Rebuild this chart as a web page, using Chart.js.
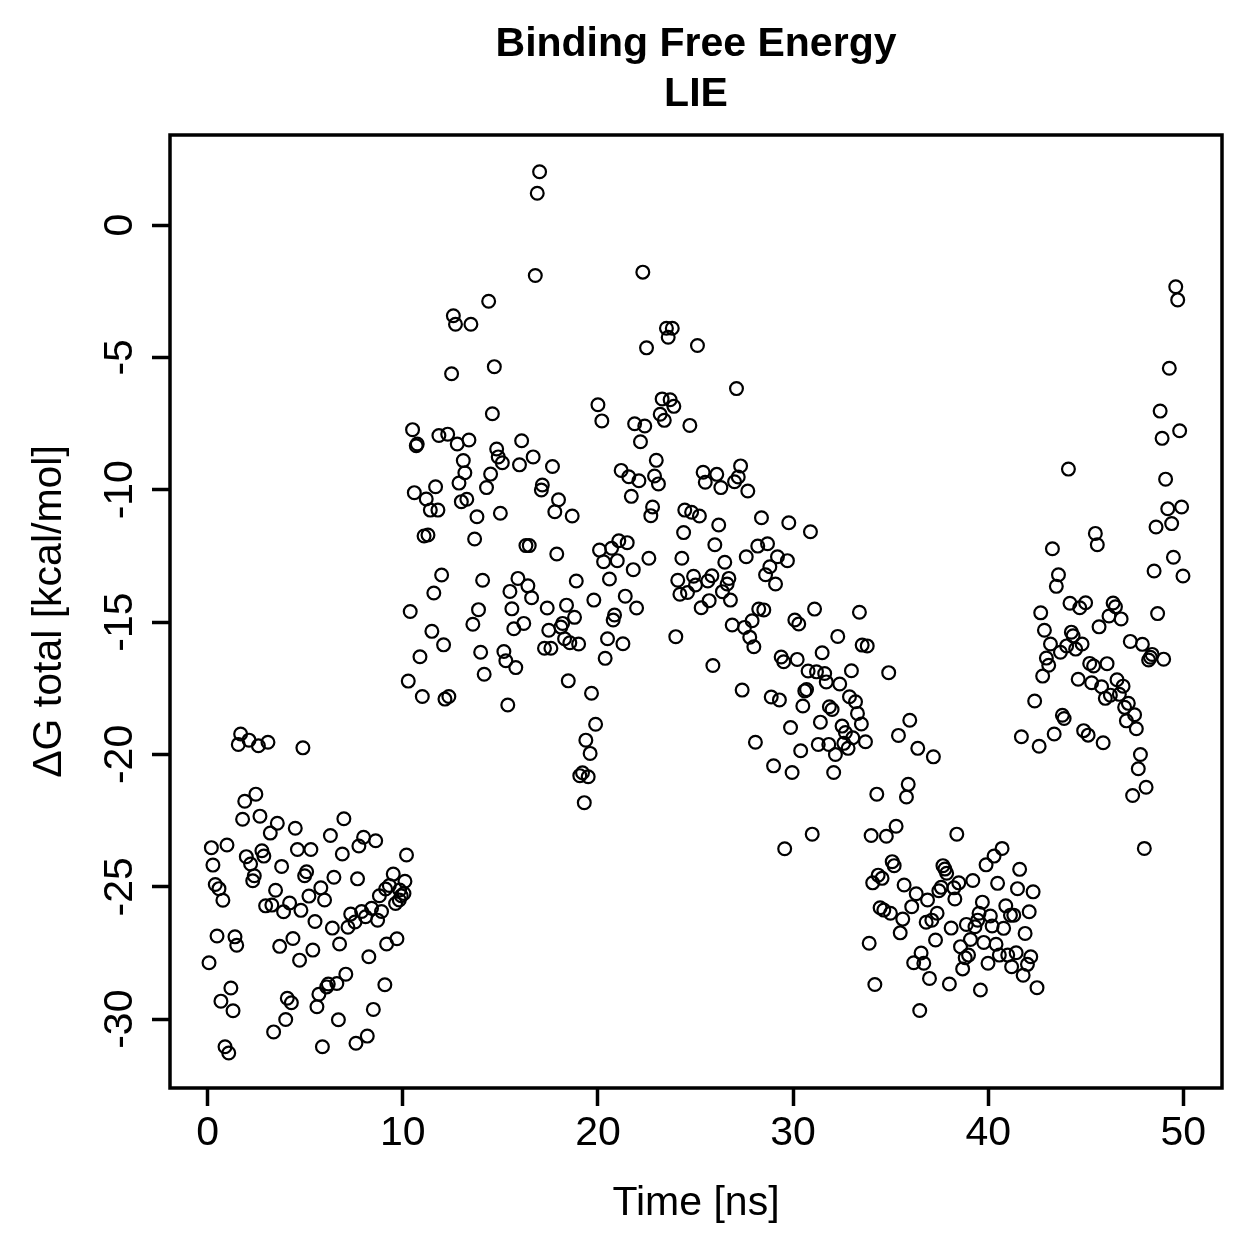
<!DOCTYPE html>
<html>
<head>
<meta charset="utf-8">
<title>Binding Free Energy - LIE</title>
<script src="https://cdn.jsdelivr.net/npm/chart.js@4.4.0/dist/chart.umd.min.js"></script>
<style>
html, body { margin: 0; padding: 0; background: #fff; }
#wrap { width: 1259px; height: 1259px; }
</style>
</head>
<body>
<div id="wrap"><canvas id="lieChart" width="1259" height="1259"></canvas></div>
<script>
// time [ns] and Delta G total [kcal/mol] (10 per line)
var timeNs = [
  1.69,1.57,2.12,2.60,3.09,4.88,2.47,1.90,1.79,2.68,
  3.57,3.21,4.49,6.98,6.29,7.99,8.61,7.75,0.19,0.99,
  1.98,2.20,2.78,2.88,3.79,4.60,5.29,6.90,10.19,0.27,
  5.07,4.97,2.39,2.31,6.47,7.68,9.51,10.11,0.39,0.58,
  0.78,3.48,5.80,5.19,5.99,9.31,9.12,8.80,9.84,10.06,
  9.92,9.63,9.82,2.97,3.29,3.89,4.20,4.78,5.50,6.39,
  7.19,7.33,7.55,7.89,8.09,8.40,8.71,8.91,0.48,1.40,
  1.49,3.69,4.37,5.39,6.76,9.17,9.70,4.71,8.26,0.07,
  7.08,6.62,6.18,6.10,5.70,5.60,4.08,4.29,9.08,1.19,
  0.68,1.30,4.00,3.38,6.70,8.49,0.89,1.08,5.88,7.60,
  8.18,
  17.01,16.89,16.79,14.40,12.59,12.70,13.49,12.50,14.69,14.59,
  20.00,20.20,10.50,10.74,10.69,11.85,12.30,12.79,13.39,14.81,
  14.89,15.10,16.09,13.10,13.18,14.50,15.98,16.68,17.67,12.88,
  14.29,11.68,10.59,11.20,17.15,17.10,17.98,17.79,18.68,11.41,
  11.80,13.00,13.28,13.80,15.00,
  11.09,11.29,13.68,16.31,16.48,17.89,20.08,20.29,20.59,11.99,
  14.09,15.90,16.41,15.49,16.60,18.89,19.79,11.59,10.38,13.88,
  13.59,15.59,16.20,15.69,17.40,18.39,18.80,18.19,18.10,17.48,
  18.29,18.56,19.01,17.26,17.59,20.49,20.37,11.49,12.09,10.88,
  13.99,15.18,15.28,15.79,14.17,10.28,11.00,12.16,12.36,15.38,
  18.48,19.67,19.88,19.38,19.60,19.21,19.07,19.50,19.30,
  22.30,23.51,23.81,23.60,22.49,25.10,27.10,23.29,23.70,23.89,
  23.19,23.40,24.71,21.88,22.40,22.18,22.99,21.19,21.58,22.10,
  22.90,23.10,21.71,25.39,25.50,26.09,26.30,27.31,27.19,27.00,
  27.68,22.80,22.71,24.45,24.80,25.20,28.38,29.78,26.19,
  24.39,25.99,28.19,28.69,20.70,21.07,21.50,20.99,21.81,22.61,
  24.30,26.50,27.60,29.20,29.71,28.81,28.59,29.10,24.09,24.90,
  25.00,25.63,25.84,24.20,24.59,26.71,26.62,26.38,26.79,25.70,
  25.29,21.40,21.98,20.85,20.78,21.28,23.99,25.89,26.88,27.51,
  27.90,27.78,27.99,28.24,28.50,29.39,29.52,27.39,28.88,29.30,
  29.87,28.07,29.00,29.95,
  30.89,31.10,33.40,30.09,30.29,32.29,33.54,33.80,31.49,30.21,
  30.77,31.20,31.62,32.99,34.90,31.70,32.39,30.60,30.69,32.89,
  33.20,30.50,31.86,32.00,33.30,33.50,31.40,32.51,32.68,33.06,
  33.71,31.29,31.83,32.60,32.82,32.17,30.39,32.08,35.98,35.40,
  36.39,37.19,35.90,35.81,34.29,30.98,34.00,34.78,35.28,38.39,
  29.57,
  42.38,41.70,42.61,43.38,40.71,40.30,39.89,41.61,35.08,35.18,
  34.36,34.56,34.08,35.69,37.68,37.78,37.87,37.59,37.47,38.49,
  38.24,39.21,38.29,40.48,41.50,42.30,36.31,36.89,36.08,34.46,
  34.65,34.99,35.62,35.49,37.38,37.11,36.82,39.70,40.90,41.14,
  41.31,42.10,39.53,39.46,39.32,38.88,40.11,40.20,40.79,38.10,
  41.89,37.30,39.09,38.58,38.99,38.82,39.77,40.40,40.57,41.00,
  41.43,42.18,42.01,41.79,41.20,39.99,38.69,33.90,36.56,36.18,
  36.70,36.99,38.01,39.60,42.50,34.19,36.49,
  49.61,49.71,49.28,48.81,49.81,48.91,44.11,49.09,49.20,49.91,
  48.60,49.40,45.49,43.29,45.59,49.49,48.50,49.98,43.60,43.49,
  44.19,44.69,44.99,46.40,46.52,46.19,46.81,45.68,48.68,42.69,
  42.88,43.19,44.26,44.35,44.02,43.70,44.48,44.81,42.98,43.10,
  42.79,47.28,47.90,48.40,48.22,48.31,48.99,45.20,45.40,46.09,
  44.61,45.30,45.81,46.60,46.91,46.72,46.00,46.26,47.18,46.99,
  47.50,47.08,47.59,43.80,43.89,44.89,45.12,45.89,47.80,47.69,
  48.09,47.40,48.00
];

var deltaG = [
  -19.23,-19.62,-19.46,-19.67,-19.54,-19.75,-21.50,-21.77,-22.45,-22.33,
  -22.60,-22.97,-22.79,-22.43,-23.06,-23.13,-23.26,-23.46,-23.52,-23.42,
  -23.86,-24.14,-23.64,-23.84,-24.23,-23.59,-23.59,-23.76,-23.80,-24.18,
  -24.43,-24.58,-24.58,-24.77,-24.64,-24.70,-24.52,-24.79,-24.91,-25.07,
  -25.51,-25.13,-25.04,-25.35,-25.50,-24.95,-25.08,-25.34,-25.12,-25.25,
  -25.34,-25.63,-25.50,-25.72,-25.69,-25.94,-25.61,-25.89,-26.31,-26.56,
  -26.53,-26.03,-26.33,-25.93,-26.13,-25.81,-26.26,-25.93,-26.86,-26.89,
  -27.21,-27.25,-26.95,-27.39,-27.16,-27.16,-26.96,-27.77,-27.64,-27.87,
  -28.30,-28.65,-28.67,-28.78,-29.06,-29.53,-29.21,-29.38,-28.70,-28.82,
  -29.32,-29.68,-30.01,-30.48,-30.02,-29.63,-31.04,-31.28,-31.04,-30.91,
  -30.64,
  2.01,1.20,-1.91,-2.88,-3.43,-3.75,-3.75,-5.62,-5.35,-7.13,
  -6.79,-7.40,-7.73,-8.27,-8.34,-7.95,-7.90,-8.27,-8.12,-8.46,
  -8.76,-8.98,-8.15,-8.90,-9.36,-9.41,-9.06,-8.76,-9.12,-9.75,
  -9.92,-9.89,-10.11,-10.35,-9.82,-10.01,-10.38,-10.83,-10.99,-10.77,
  -10.77,-10.45,-10.36,-11.02,-10.89,
  -11.75,-11.71,-11.86,-12.11,-12.11,-12.43,-12.28,-12.72,-13.37,-13.22,
  -13.42,-13.35,-13.63,-13.84,-14.08,-13.45,-14.17,-13.90,-14.60,-14.53,
  -15.08,-14.50,-15.05,-15.25,-14.47,-14.36,-14.82,-15.05,-15.19,-15.31,
  -15.63,-15.78,-15.83,-15.99,-15.99,-15.63,-16.37,-15.35,-15.86,-16.31,
  -16.14,-16.11,-16.46,-16.72,-16.97,-17.23,-17.81,-17.91,-17.81,-18.13,
  -17.22,-17.69,-18.86,-19.46,-19.96,-20.69,-20.80,-20.84,-21.82,
  -1.78,-3.90,-3.90,-4.24,-4.64,-4.55,-6.18,-6.57,-6.60,-6.85,
  -7.15,-7.38,-7.57,-7.51,-7.59,-8.19,-8.89,-9.27,-9.51,-9.66,
  -9.48,-9.78,-10.25,-9.34,-9.72,-9.42,-9.92,-9.10,-9.52,-9.70,
  -10.05,-10.65,-10.98,-10.77,-10.85,-10.99,-11.06,-11.25,-11.33,
  -11.62,-12.08,-12.13,-12.04,-12.21,-11.93,-12.00,-12.68,-13.02,-12.59,
  -12.59,-12.74,-12.53,-12.53,-12.68,-12.91,-13.21,-13.56,-13.42,-13.27,
  -13.60,-13.45,-13.25,-13.95,-13.88,-13.35,-13.56,-13.85,-14.17,-14.19,
  -14.46,-14.02,-14.47,-14.73,-14.92,-15.82,-15.55,-16.64,-15.11,-15.20,
  -14.95,-15.57,-15.93,-14.51,-14.54,-16.32,-16.50,-17.57,-17.83,-17.94,
  -18.98,-19.54,-20.43,-20.68,
  -11.59,-14.51,-14.63,-14.92,-15.07,-15.54,-15.87,-15.90,-16.16,-16.41,
  -16.85,-16.88,-16.94,-16.84,-16.91,-17.26,-17.34,-17.60,-17.55,-17.82,
  -18.01,-18.17,-18.20,-18.30,-18.45,-18.85,-18.78,-18.93,-19.17,-19.37,
  -19.52,-19.62,-19.62,-19.58,-19.77,-20.00,-19.86,-20.68,-18.71,-19.28,
  -19.77,-20.09,-21.13,-21.61,-21.50,-23.01,-23.06,-23.09,-22.71,-23.01,
  -23.56,
  -17.98,-19.33,-19.69,-19.23,-23.55,-23.84,-24.17,-24.34,-24.05,-24.20,
  -24.56,-24.68,-24.85,-24.93,-24.20,-24.33,-24.49,-25.02,-25.15,-24.85,
  -25.04,-24.76,-25.46,-24.87,-25.07,-25.19,-25.26,-25.50,-25.75,-25.79,
  -25.88,-26.00,-26.22,-26.74,-26.00,-26.26,-26.34,-25.58,-25.72,-26.07,
  -26.07,-25.94,-26.00,-26.26,-26.51,-26.42,-26.10,-26.48,-26.57,-26.56,
  -26.76,-27.01,-26.99,-27.26,-27.58,-27.68,-27.10,-27.17,-27.58,-27.58,
  -27.49,-27.64,-27.93,-28.34,-28.02,-27.89,-28.10,-27.13,-27.50,-27.87,
  -27.89,-28.46,-28.67,-28.90,-28.81,-28.69,-29.67,
  -2.33,-2.83,-5.41,-7.03,-7.77,-8.06,-9.22,-9.60,-10.72,-10.65,
  -11.41,-11.28,-11.65,-12.23,-12.08,-12.55,-13.07,-13.26,-13.21,-13.65,
  -14.29,-14.46,-14.27,-14.28,-14.42,-14.77,-14.88,-15.18,-14.68,-14.65,
  -15.31,-15.83,-15.38,-15.52,-15.90,-16.14,-16.02,-15.83,-16.36,-16.63,
  -17.04,-15.73,-15.84,-16.22,-16.43,-16.33,-16.40,-16.56,-16.66,-16.57,
  -17.16,-17.29,-17.44,-17.18,-17.42,-17.73,-17.88,-17.76,-18.07,-18.22,
  -18.50,-18.73,-19.03,-18.52,-18.64,-19.10,-19.27,-19.56,-20.00,-20.54,
  -21.24,-21.55,-23.55
];

var xTicks = [0, 10, 20, 30, 40, 50];
var yTicks = [-30, -25, -20, -15, -10, -5, 0];
var titleLines = ['Binding Free Energy', 'LIE'];
var xTitle = 'Time [ns]';
var yTitle = '\u0394G total [kcal/mol]';

var FONT = "'Liberation Sans', Arial, Helvetica, sans-serif";

var points = timeNs.map(function (t, i) { return { x: t, y: deltaG[i] }; });

// R style box round the plot region
var boxPlugin = {
  id: 'plotBox',
  afterDraw: function (chart) {
    var a = chart.chartArea, ctx = chart.ctx;
    ctx.save();
    ctx.strokeStyle = '#000';
    ctx.lineWidth = 3.5;
    ctx.strokeRect(a.left, a.top, a.right - a.left, a.bottom - a.top);
    ctx.restore();
  }
};

// y tick labels are drawn turned by 90 degrees, as R does it
var yLabelPlugin = {
  id: 'yTickLabels',
  afterDraw: function (chart) {
    var s = chart.scales.y, ctx = chart.ctx;
    ctx.save();
    ctx.font = '41px ' + FONT;
    ctx.fillStyle = '#000';
    ctx.textAlign = 'center';
    ctx.textBaseline = 'middle';
    yTicks.forEach(function (v) {
      ctx.save();
      ctx.translate(s.right - 49, s.getPixelForValue(v));
      ctx.rotate(-Math.PI / 2);
      ctx.fillText(String(v), 0, 0);
      ctx.restore();
    });
    ctx.restore();
  }
};

var ctx = document.getElementById('lieChart').getContext('2d');
var lieChart = new Chart(ctx, {
  type: 'scatter',
  data: {
    datasets: [{
      data: points,
      pointStyle: 'circle',
      pointRadius: 6.4,
      pointHoverRadius: 6.4,
      borderWidth: 2.2,
      borderColor: '#000',
      backgroundColor: 'rgba(0,0,0,0)'
    }]
  },
  options: {
    responsive: false,
    animation: false,
    devicePixelRatio: 1,
    layout: { padding: { top: 0, left: 0, right: 37, bottom: 0 } },
    plugins: {
      legend: { display: false },
      tooltip: { enabled: false },
      title: {
        display: true,
        text: titleLines,
        fullSize: false,
        color: '#000',
        font: { family: FONT, size: 41, weight: 'bold', lineHeight: 50 / 41 },
        padding: { top: 20, bottom: 15 }
      }
    },
    scales: {
      x: {
        type: 'linear',
        position: 'bottom',
        min: -1.93,
        max: 51.98,
        afterBuildTicks: function (s) { s.ticks = xTicks.map(function (v) { return { value: v }; }); },
        afterFit: function (s) { s.height = 171; },
        border: { display: false },
        grid: { drawOnChartArea: false, drawTicks: true, tickLength: 18, tickWidth: 3.5, tickColor: '#000' },
        ticks: { color: '#000', font: { family: FONT, size: 41 }, padding: 3, maxRotation: 0, autoSkip: false },
        title: { display: true, text: xTitle, color: '#000', font: { family: FONT, size: 41 }, padding: { top: 0, bottom: 31 } }
      },
      y: {
        type: 'linear',
        position: 'left',
        min: -32.6,
        max: 3.4,
        afterBuildTicks: function (s) { s.ticks = yTicks.map(function (v) { return { value: v }; }); },
        afterFit: function (s) { s.width = 170; },
        border: { display: false },
        grid: { drawOnChartArea: false, drawTicks: true, tickLength: 18, tickWidth: 3.5, tickColor: '#000' },
        ticks: { display: false },
        title: { display: true, text: yTitle, color: '#000', font: { family: FONT, size: 41 }, padding: { top: 25, bottom: 0 } }
      }
    }
  },
  plugins: [boxPlugin, yLabelPlugin]
});
</script>
</body>
</html>
